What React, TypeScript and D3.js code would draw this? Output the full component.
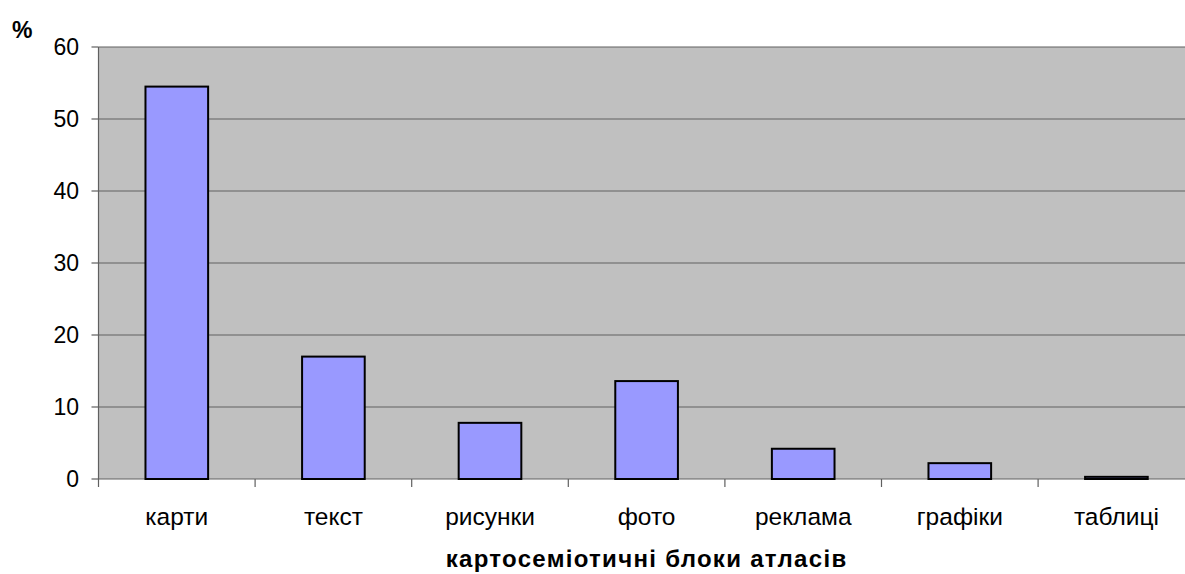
import React from "react";
import * as d3 from "d3";

const categories = ["карти", "текст", "рисунки", "фото", "реклама", "графіки", "таблиці"];
const values = [54.5, 17.0, 7.8, 13.6, 4.2, 2.2, 0.3];
const yTicks = [0, 10, 20, 30, 40, 50, 60];
const yAxisLabel = "%";
const xAxisTitle = "картосеміотичні блоки атласів";

const W = 1185;
const H = 574;
const left = 98.5;
const top = 47;
const bottom = 479;
const step = 156.6;
const right = left + step * categories.length;

export default function App() {
  const x = d3.scaleBand<string>().domain(categories).range([left, right]).padding(0);
  const y = d3.scaleLinear().domain([0, 60]).range([bottom, top]);
  const bw = x.bandwidth() * 0.4;
  const font = "Arial, 'Liberation Sans', sans-serif";
  return (
    <svg
      width={W}
      height={H}
      style={{ position: "absolute", left: 0, top: 0, background: "#fff" }}
      fontFamily={font}
    >
      <rect x={left} y={top} width={right - left} height={bottom - top} fill="#C0C0C0" />
      {yTicks.map((t) => (
        <g key={t}>
          <line x1={left} x2={right} y1={y(t)} y2={y(t)} stroke="#606060" strokeWidth={1.2} />
          <line x1={left - 7} x2={left} y1={y(t)} y2={y(t)} stroke="#606060" strokeWidth={1.2} />
          <text x={79} y={y(t)} dy="0.36em" textAnchor="end" fontSize={23} fill="#000">
            {t}
          </text>
        </g>
      ))}
      <line x1={left} x2={left} y1={top} y2={bottom + 8} stroke="#606060" strokeWidth={1.2} />
      {categories.map((c) => (
        <line
          key={"t" + c}
          x1={(x(c) as number) + step}
          x2={(x(c) as number) + step}
          y1={bottom}
          y2={bottom + 8}
          stroke="#606060"
          strokeWidth={1.2}
        />
      ))}
      {categories.map((c, i) => {
        const cx = (x(c) as number) + x.bandwidth() / 2;
        return (
          <rect
            key={"b" + c}
            x={cx - bw / 2}
            y={y(values[i])}
            width={bw}
            height={bottom - y(values[i])}
            fill="#9999FF"
            stroke="#000"
            strokeWidth={2}
          />
        );
      })}
      {categories.map((c) => (
        <text
          key={"l" + c}
          x={(x(c) as number) + x.bandwidth() / 2}
          y={525}
          textAnchor="middle"
          fontSize={24.5}
          fill="#000"
        >
          {c}
        </text>
      ))}
      <text x={12} y={38} fontSize={23} fontWeight="bold" fill="#000">
        {yAxisLabel}
      </text>
      <text
        x={(left + right) / 2}
        y={567}
        textAnchor="middle"
        fontSize={24}
        fontWeight="bold"
        fill="#000"
        letterSpacing={1.3}
      >
        {xAxisTitle}
      </text>
    </svg>
  );
}
